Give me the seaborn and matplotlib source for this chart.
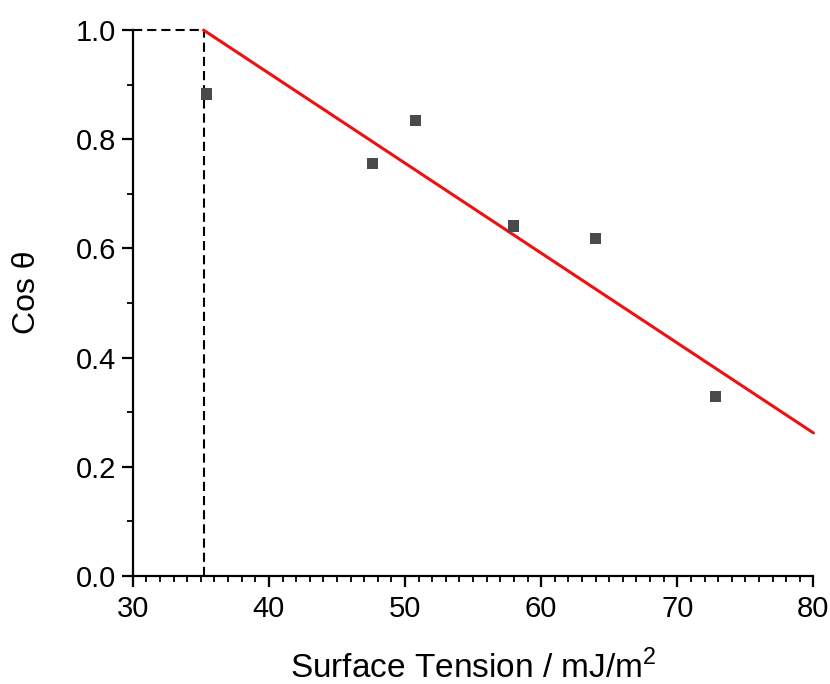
import numpy as np
import pandas as pd
import matplotlib.pyplot as plt
import seaborn as sns
from matplotlib.ticker import MultipleLocator

sns.set_style('ticks')
plt.rcParams['font.family'] = ['Liberation Sans', 'DejaVu Sans']
plt.rcParams['mathtext.fontset'] = 'custom'
plt.rcParams['mathtext.rm'] = 'Liberation Sans'
plt.rcParams['text.color'] = 'black'
plt.rcParams['axes.labelcolor'] = 'black'
plt.rcParams['xtick.color'] = 'black'
plt.rcParams['ytick.color'] = 'black'

# measured points (surface tension, cos theta)
surface_tension = [35.4, 47.6, 50.8, 58.0, 64.0, 72.8]
cos_theta = [0.883, 0.755, 0.835, 0.641, 0.619, 0.328]

# linear fit line, end points
fit_x = [35.2, 80.0]
fit_y = [1.0, 0.262]
critical_x = 35.2

df = pd.DataFrame({'st': surface_tension, 'cos': cos_theta})
df_fit = pd.DataFrame({'st': fit_x, 'cos': fit_y})

fig = plt.figure(figsize=(8.3, 6.84), dpi=100)
ax = fig.add_axes([0.160, 0.158, 0.820, 0.798])

# dashed guide lines to the critical surface tension
ax.plot([30, critical_x], [1.0, 1.0], ls=(0, (4.4, 2.4)), color='black', lw=1.5,
        zorder=1, clip_on=False)
ax.plot([critical_x, critical_x], [0, 1.0], ls=(0, (4.4, 2.4)), color='black', lw=1.5,
        zorder=1, clip_on=False)

sns.lineplot(data=df_fit, x='st', y='cos', color='#ee1111', lw=2.2, ax=ax, zorder=2,
             clip_on=False)
sns.scatterplot(data=df, x='st', y='cos', marker='s', s=64, color='#4a4a4a',
                edgecolor='none', ax=ax, zorder=3)

ax.set_xlim(30, 80)
ax.set_ylim(0, 1.0)
ax.xaxis.set_major_locator(MultipleLocator(10))
ax.xaxis.set_minor_locator(MultipleLocator(1))
ax.yaxis.set_major_locator(MultipleLocator(0.2))
ax.yaxis.set_minor_locator(MultipleLocator(0.1))
ax.yaxis.set_major_formatter(plt.FormatStrFormatter('%.1f'))

for s in ['top', 'right']:
    ax.spines[s].set_visible(False)
for s in ['left', 'bottom']:
    ax.spines[s].set_linewidth(1.6)
    ax.spines[s].set_color('black')
ax.tick_params(which='major', direction='out', length=8, width=1.6, labelsize=21)
ax.tick_params(axis='x', which='major', pad=6)
ax.tick_params(axis='y', which='major', pad=4)
ax.tick_params(which='minor', direction='out', length=4, width=1.3)

ax.set_xlabel('Surface Tension / mJ/m$^{2}$', fontsize=24, labelpad=19)
ax.set_ylabel('Cos θ', fontsize=23, labelpad=24)
ax.yaxis.label.set_y(0.52)

fig.savefig('out.png', dpi=100)
